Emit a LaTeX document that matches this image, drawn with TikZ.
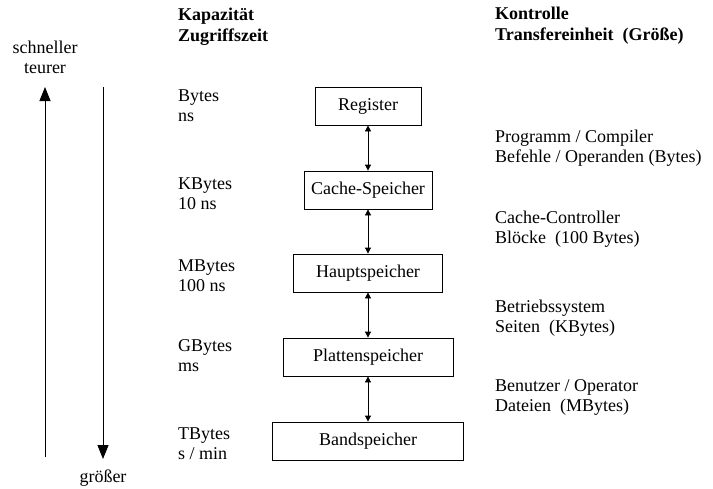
\documentclass[tikz,border=0pt]{standalone}
\usepackage{fontspec}
\setmainfont{Liberation Serif}
\usetikzlibrary{positioning, arrows.meta}

\tikzset{
  speicher/.style={draw, thick, minimum height=38pt, inner sep=0, font=\fontsize{18}{20}\selectfont},
  txt/.style={anchor=west, align=left, inner sep=0, font=\fontsize{18}{20}\selectfont},
  kopf/.style={anchor=west, align=left, inner sep=0, font=\fontsize{18}{21}\selectfont\bfseries},
  link/.style={thick, {Triangle[length=6pt,width=6pt]}-{Triangle[length=6pt,width=6pt]}},
  pfeil/.style={thick, -{Triangle[length=14pt,width=11pt]}}
}

\begin{document}
\begin{tikzpicture}[x=1pt, y=-1pt]
  \useasboundingbox (0,0) rectangle (713,488);
  % headers
  \node[kopf] (kap) at (178,27) {Kapazität\\Zugriffszeit};
  \node[kopf] (kon) at (495,26) {Kontrolle\\Transfereinheit\ \ (Größe)};
  % hierarchy boxes
  \foreach \n/\y/\w/\t in {reg/106/106/Register, cache/190/128/Cache-Speicher,
      haupt/273/149/Hauptspeicher, platten/357/170/Plattenspeicher, band/441/191/Bandspeicher}{
    \node[speicher, minimum width=\w pt] (\n) at (368,\y) {\t};
  }
  \foreach \a/\b in {reg/cache, cache/haupt, haupt/platten, platten/band}{ \draw[link] (\a)--(\b); }
  % capacity / access time
  \foreach \n/\y/\t in {kb/106/{Bytes\\ns}, kkb/194/{KBytes\\10 ns}, kmb/276/{MBytes\\100 ns},
      kgb/356/{GBytes\\ms}, ktb/444/{TBytes\\s / min}}{
    \node[txt] (\n) at (178,\y) {\t};
  }
  % control / unit
  \foreach \n/\y/\t in {prog/148/{Programm / Compiler\\Befehle / Operanden  (Bytes)},
      cc/229/{Cache-Controller\\Blöcke\ \ (100 Bytes)}, bs/318/{Betriebssystem\\Seiten\ \ (KBytes)},
      ben/397/{Benutzer / Operator\\Dateien\ \ (MBytes)}}{
    \node[txt] (\n) at (495,\y) {\t};
  }
  % side arrows
  \node[txt, anchor=center, align=center] (schnell) at (45,57) {schneller\\teurer};
  \node[txt, anchor=center] (gross) at (103,478) {größer};
  \coordinate (u0) at (45,457);
  \coordinate (u1) at (45,87);
  \coordinate (d0) at (103,87);
  \coordinate (d1) at (103,459);
  \draw[pfeil] (u0)--(u1);
  \draw[pfeil] (d0)--(d1);
\end{tikzpicture}
\end{document}
